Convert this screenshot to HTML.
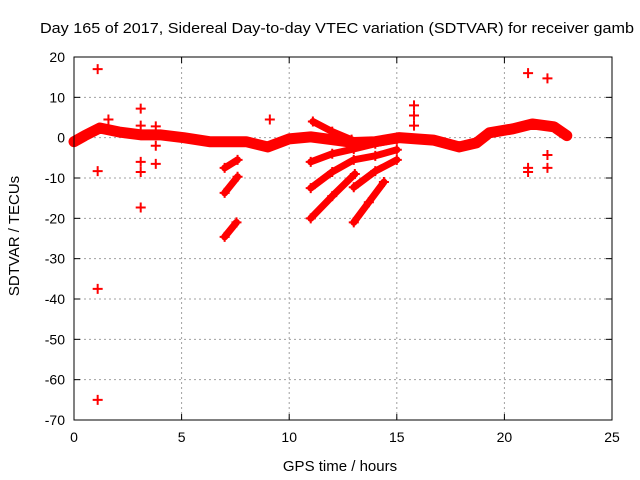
<!DOCTYPE html>
<html><head><meta charset="utf-8"><style>
body{margin:0;background:#fff;}
svg{display:block;font-family:"Liberation Sans",sans-serif;}
</style></head><body>
<svg id="c" width="640" height="480"></svg>
<script>
const xTicks=[0,5,10,15,20,25];
const yTicks=[20,10,0,-10,-20,-30,-40,-50,-60,-70];
const mainBand=[[0,-1],[0.5,0.5],[1.2,2.4],[2.1,1.4],[3.1,0.7],[4,0.7],[5.1,0],[6.3,-1],[7.2,-1],[8,-1],[9,-2.3],[10,-0.3],[11,0.2],[12,-0.5],[13,-1.2],[14,-1],[15.1,0],[16.7,-0.6],[17.9,-2.3],[18.7,-1.3],[19.3,1.2],[20.4,2.2],[21.3,3.4],[22.3,2.7],[22.9,0.5]];
const track1=[[11.1,4],[12,1.5],[12.9,-0.5]];
const track2=[[11,-6],[12,-4],[13,-2.8],[14,-1.5],[15,-0.5]];
const track3=[[11,-12.5],[12,-8.5],[13,-5.5],[14,-4.5],[15,-3]];
const track4=[[11,-20],[12,-14.5],[13.05,-9]];
const track5=[[13,-12.3],[14,-8.3],[15,-5.5]];
const track6=[[13,-21],[13.7,-16],[14.4,-11]];
const track7=[[7,-7.5],[7.6,-5.5]];
const track8=[[7,-13.7],[7.6,-9.7]];
const track9=[[7,-24.6],[7.55,-21]];
const outliers=[[1.1,17],[1.1,-8.3],[1.1,-37.5],[1.1,-65],[3.1,7.2],[3.1,3],[3.1,-6],[3.1,-8.5],[3.1,-17.3],[3.8,2.8],[3.8,-2],[3.8,-6.5],[1.6,4.5],[9.1,4.5],[15.8,8],[15.8,5.5],[15.8,3],[21.1,16],[21.1,-7.5],[21.1,-8.5],[22,14.7],[22,-4.3],[22,-7.5]];
const X0=74,X1=612,Y0=57,Y1=420;
function sx(v){return X0+(v-0)/25*(X1-X0);}
function sy(v){return Y0+(20-v)/90*(Y1-Y0);}
const svg=document.getElementById('c');
const NS='http://www.w3.org/2000/svg';
function mk(t,a,p){const e=document.createElementNS(NS,t);for(const k in a)e.setAttribute(k,a[k]);(p||svg).appendChild(e);return e;}
const grid=mk('g',{});


xTicks.forEach(t=>{
 if(t>0&&t<25){mk('line',{x1:sx(t),x2:sx(t),y1:Y0,y2:Y1,stroke:'#a0a0a0','stroke-dasharray':'2,3'},grid);}
 mk('line',{x1:sx(t),x2:sx(t),y1:Y1,y2:Y1-6,stroke:'#000'});
 mk('line',{x1:sx(t),x2:sx(t),y1:Y0,y2:Y0+6,stroke:'#000'});
 const tx=mk('text',{x:sx(t),y:Y1+22,'text-anchor':'middle','font-size':'14',fill:'#000'});
 tx.textContent=t;
 
 
});
yTicks.forEach(t=>{
 if(t<20&&t>-70)mk('line',{x1:X0,x2:X1,y1:sy(t),y2:sy(t),stroke:'#a0a0a0','stroke-dasharray':'2,3'},grid);
 mk('line',{x1:X0,x2:X0+6,y1:sy(t),y2:sy(t),stroke:'#000'});
 mk('line',{x1:X1,x2:X1-6,y1:sy(t),y2:sy(t),stroke:'#000'});
 const tx=mk('text',{x:X0-9,y:sy(t)+5,'text-anchor':'end','font-size':'14',fill:'#000'});
 tx.textContent=t;
 
 
});
const data=mk('g',{});


function band(arr,w){
 const p=mk('polyline',{points:arr.map(d=>sx(d[0])+','+sy(d[1])).join(' '),fill:'none',stroke:'#ff0000','stroke-width':w,'stroke-linejoin':'round','stroke-linecap':'round'},data);
 
 
 arr.forEach(d=>plus(d));
}
function plus(d){
 const x=sx(d[0]),y=sy(d[1]);
 const p=mk('path',{d:`M${x-5},${y}h10M${x},${y-5}v10`,stroke:'#ff0000','stroke-width':2},data);
 
 
}
band(mainBand,11);
[track1,track2,track3,track4,track5,track6,track7,track8,track9].forEach(t=>band(t,7));
outliers.forEach(plus);
const fr=mk('rect',{x:X0,y:Y0,width:X1-X0,height:Y1-Y0,fill:'none',stroke:'#000'});


const ti=mk('text',{x:40,y:33,'font-size':'15',fill:'#000',textLength:'594',lengthAdjust:'spacingAndGlyphs'});
ti.textContent='Day 165 of 2017, Sidereal Day-to-day VTEC variation (SDTVAR) for receiver gamb';


const xl=mk('text',{x:340,y:471,'text-anchor':'middle','font-size':'15',fill:'#000'});
xl.textContent='GPS time / hours';


const yl=mk('text',{x:0,y:0,'text-anchor':'middle','font-size':'15',fill:'#000',transform:'translate(19,236) rotate(-90)'});
yl.textContent='SDTVAR / TECUs';


</script>
</body></html>
